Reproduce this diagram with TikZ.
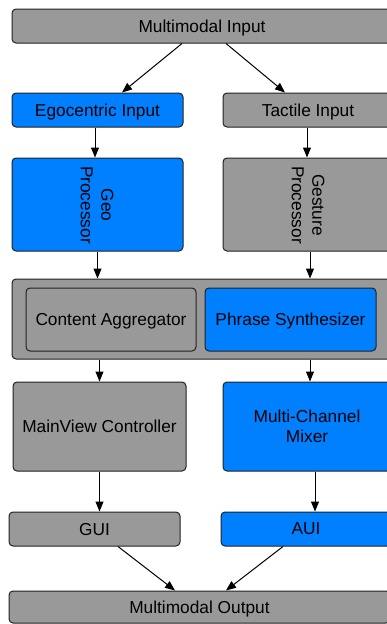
\documentclass[tikz,border=0pt]{standalone}
\usepackage{fontspec}
\setmainfont{Liberation Sans}
\usetikzlibrary{arrows.meta,calc}
\definecolor{boxgrey}{HTML}{999999}
\definecolor{boxblue}{HTML}{0080FF}
\definecolor{edge}{HTML}{222222}
\tikzset{
  lbl/.style={font=\fontsize{17.3}{20.5}\selectfont, align=center, text=black},
  box/.style={draw=edge, line width=1pt, rounded corners=4pt, inner sep=0pt, lbl},
  gbox/.style={box, fill=boxgrey},
  bbox/.style={box, fill=boxblue},
  oneline/.style={text depth=0pt},
  arr/.style={draw=black, line width=1pt, -{Triangle[length=10pt,width=8pt]}}
}
\begin{document}
\begin{tikzpicture}[x=1pt,y=-1pt]
\useasboundingbox (0,0) rectangle (387,624);
\clip (0,0) rectangle (387,624);
\node[gbox, oneline, minimum width=380pt, minimum height=34pt] (mi) at (202,26) {Multimodal Input};
\node[bbox, oneline, minimum width=171pt, minimum height=34pt] (ego) at (97.5,110) {Egocentric Input};
\node[gbox, oneline, minimum width=170pt, minimum height=34pt] (tact) at (308,110) {Tactile Input};
\node[bbox, minimum width=171pt, minimum height=93pt] (geo) at (97.5,204.5) {};
\node[rotate=-90, lbl] (geot) at (97,205) {Geo\\Processor};
\node[gbox, minimum width=170pt, minimum height=93pt] (gest) at (308,204.5) {};
\node[rotate=-90, lbl] (gestt) at (308,205) {Gesture\\Processor};
\node[gbox, minimum width=381pt, minimum height=80pt] (cont) at (202.5,319) {};
\node[gbox, oneline, minimum width=170pt, minimum height=63pt] (agg) at (111,319.5) {Content Aggregator};
\node[bbox, oneline, minimum width=171pt, minimum height=63pt] (phr) at (290.5,319.5) {Phrase Synthesizer};
\node[gbox, oneline, minimum width=173pt, minimum height=89pt] (mv) at (99.5,426.5) {MainView Controller};
\node[bbox, minimum width=168pt, minimum height=89pt] (mix) at (307,426.5) {Multi-Channel\\Mixer};
\node[gbox, oneline, minimum width=171pt, minimum height=34pt] (gui) at (94.5,529) {GUI};
\node[bbox, oneline, minimum width=170pt, minimum height=34pt] (aui) at (306,529) {AUI};
\node[gbox, oneline, minimum width=381pt, minimum height=32pt] (out) at (199.5,607) {Multimodal Output};
\draw[arr] ([xshift=-20pt]mi.south) -- ([xshift=24.5pt]ego.north);
\draw[arr] ([xshift=24pt]mi.south) -- ([xshift=-23pt]tact.north);
\draw[arr] ([xshift=-2.5pt]ego.south) -- ([xshift=-2.5pt]geo.north);
\draw[arr] ([xshift=-1pt]tact.south) -- ([xshift=-1pt]gest.north);
\draw[arr] (geo.south) -- (cont.north -| geo.south);
\draw[arr] ([xshift=2pt]gest.south) -- ($(cont.north -| gest.south)+(2,0)$);
\draw[arr] (cont.south -| mv.north) -- (mv.north);
\draw[arr] ($(cont.south -| mix.north)+(3,0)$) -- ([xshift=3pt]mix.north);
\draw[arr] (mv.south) -- (gui.north -| mv.south);
\draw[arr] ([xshift=8pt]mix.south) -- ($(aui.north -| mix.south)+(8,0)$);
\draw[arr] ([xshift=23.5pt]gui.south) -- ([xshift=-24.5pt]out.north);
\draw[arr] ([xshift=-23pt]aui.south) -- ([xshift=26.5pt]out.north);
\end{tikzpicture}
\end{document}
